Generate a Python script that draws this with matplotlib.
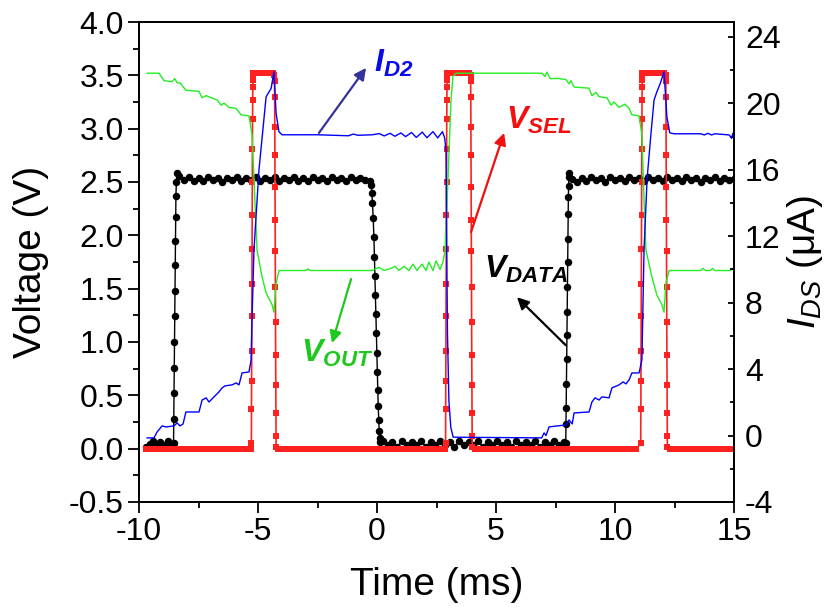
"""Transient waveforms of the pixel circuit: V_SEL, V_DATA, V_OUT and I_D2."""

import matplotlib

matplotlib.use("Agg")

import matplotlib.pyplot as plt
from matplotlib.ticker import MultipleLocator

plt.rcParams["font.family"] = ["Liberation Sans", "DejaVu Sans"]
plt.rcParams["axes.unicode_minus"] = False
plt.rcParams["mathtext.fontset"] = "custom"
plt.rcParams["mathtext.rm"] = "Liberation Sans"
plt.rcParams["mathtext.it"] = "Liberation Sans:italic"
plt.rcParams["mathtext.bf"] = "Liberation Sans:italic:bold"

# ---- V_DATA (black circles), time in ms, voltage in V ----
vdata_t = [
    -9.7, -9.55, -9.4, -9.25, -9.1, -8.95, -8.8, -8.65,
    -8.55, -8.54, -8.53, -8.52, -8.51, -8.50, -8.49, -8.48, -8.47, -8.46, -8.45, -8.43, -8.41,
    -8.3, -8.1, -7.9, -7.7, -7.5, -7.3, -7.1, -6.9, -6.7, -6.5,
    -6.3, -6.1, -5.9, -5.7, -5.5, -5.3, -5.1, -4.9, -4.7, -4.5,
    -4.3, -4.1, -3.9, -3.7, -3.5, -3.3, -3.1, -2.9, -2.7, -2.5,
    -2.3, -2.1, -1.9, -1.7, -1.5, -1.3, -1.1, -0.9, -0.7, -0.5,
    -0.3, -0.25, -0.22, -0.19, -0.16, -0.13, -0.11, -0.09, -0.07, -0.05,
    -0.03, -0.01, 0.01, 0.03, 0.05, 0.07, 0.09, 0.11, 0.14,
    0.25, 0.45, 0.65, 0.85, 1.05, 1.25, 1.45, 1.65, 1.85, 2.05,
    2.25, 2.45, 2.65, 2.85, 3.05, 3.25, 3.45, 3.65, 3.85, 4.05,
    4.25, 4.45, 4.65, 4.85, 5.05, 5.25, 5.45, 5.65, 5.85, 6.05,
    6.25, 6.45, 6.65, 6.85, 7.05, 7.25, 7.45, 7.65, 7.85,
    7.93, 7.94, 7.95, 7.96, 7.97, 7.98, 7.99, 8.0, 8.01, 8.02, 8.03, 8.04, 8.05, 8.06, 8.08,
    8.2, 8.4, 8.6, 8.8, 9.0, 9.2, 9.4, 9.6, 9.8, 10.0,
    10.2, 10.4, 10.6, 10.8, 11.0, 11.2, 11.4, 11.6, 11.8, 12.0,
    12.2, 12.4, 12.6, 12.8, 13.0, 13.2, 13.4, 13.6, 13.8, 14.0,
    14.2, 14.4, 14.6, 14.8, 15.0,
]
vdata_v = [
    0.02, 0.04, 0.07, 0.03, 0.06, 0.03, 0.07, 0.04,
    0.05, 0.28, 0.52, 0.76, 1.00, 1.24, 1.48, 1.72, 1.95, 2.17, 2.37, 2.50, 2.58,
    2.56, 2.52, 2.55, 2.51, 2.54, 2.51, 2.55, 2.52, 2.54, 2.50,
    2.54, 2.52, 2.55, 2.51, 2.54, 2.52, 2.55, 2.51, 2.54, 2.52,
    2.55, 2.51, 2.54, 2.52, 2.55, 2.51, 2.54, 2.51, 2.55, 2.52,
    2.54, 2.51, 2.55, 2.52, 2.54, 2.51, 2.55, 2.52, 2.54, 2.52,
    2.51, 2.47, 2.40, 2.30, 2.16, 1.98, 1.80, 1.62, 1.44, 1.26,
    1.08, 0.90, 0.72, 0.55, 0.40, 0.27, 0.17, 0.10, 0.06,
    0.07, 0.03, 0.06, 0.02, 0.07, 0.03, 0.06, 0.03, 0.07, 0.02,
    0.06, 0.03, 0.07, 0.03, 0.06, 0.02, 0.07, 0.03, 0.06, 0.03,
    0.07, 0.02, 0.06, 0.03, 0.07, 0.03, 0.06, 0.02, 0.07, 0.03,
    0.06, 0.03, 0.07, 0.02, 0.06, 0.03, 0.07, 0.03, 0.06,
    0.05, 0.23, 0.38, 0.61, 0.84, 1.07, 1.28, 1.52, 1.75, 1.97, 2.20, 2.36, 2.46, 2.55, 2.58,
    2.53, 2.50, 2.54, 2.51, 2.55, 2.52, 2.54, 2.50, 2.55, 2.52,
    2.54, 2.51, 2.55, 2.52, 2.54, 2.51, 2.55, 2.52, 2.54, 2.51,
    2.55, 2.52, 2.54, 2.51, 2.55, 2.52, 2.54, 2.50, 2.54, 2.52,
    2.55, 2.51, 2.54, 2.52, 2.53,
]

# ---- V_SEL (red squares) ----
sel_low = 0.0
sel_high = 3.52
sel_rise = [0.05, 0.37, 0.63, 0.92, 1.24, 1.54, 1.87, 2.19, 2.50, 2.81, 3.09, 3.27, 3.39, 3.46, 3.50, 3.52]
sel_fall = [3.50, 3.45, 3.30, 3.02, 2.75, 2.45, 2.14, 1.85, 1.52, 1.19, 0.88, 0.60, 0.33, 0.12, 0.02]

sel_low_a_t = [-9.7, -9.5, -9.3, -9.1, -8.9, -8.7, -8.5, -8.3, -8.1, -7.9, -7.7, -7.5,
               -7.3, -7.1, -6.9, -6.7, -6.5, -6.3, -6.1, -5.9, -5.7, -5.5, -5.3]
sel_rise_a_t = [-5.28, -5.275, -5.27, -5.265, -5.26, -5.255, -5.25, -5.245,
                -5.24, -5.235, -5.23, -5.225, -5.22, -5.215, -5.21, -5.205]
sel_high_a_t = [-5.1, -4.9, -4.7, -4.5, -4.35]
sel_fall_a_t = [-4.31, -4.305, -4.3, -4.295, -4.29, -4.285, -4.28, -4.275,
                -4.27, -4.265, -4.26, -4.255, -4.25, -4.245, -4.24]
sel_low_b_t = [-4.15, -3.95, -3.75, -3.55, -3.35, -3.15, -2.95, -2.75, -2.55, -2.35, -2.15, -1.95,
               -1.75, -1.55, -1.35, -1.15, -0.95, -0.75, -0.55, -0.35, -0.15, 0.05, 0.25, 0.45,
               0.65, 0.85, 1.05, 1.25, 1.45, 1.65, 1.85, 2.05, 2.25, 2.45, 2.65, 2.85]
sel_rise_b_t = [2.88, 2.885, 2.89, 2.895, 2.9, 2.905, 2.91, 2.915,
                2.92, 2.925, 2.93, 2.935, 2.94, 2.945, 2.95, 2.955]
sel_high_b_t = [3.05, 3.25, 3.45, 3.65, 3.85]
sel_fall_b_t = [3.93, 3.935, 3.94, 3.945, 3.95, 3.955, 3.96, 3.965,
                3.97, 3.975, 3.98, 3.985, 3.99, 3.995, 4.0]
sel_low_c_t = [4.1, 4.3, 4.5, 4.7, 4.9, 5.1, 5.3, 5.5, 5.7, 5.9, 6.1, 6.3, 6.5, 6.7, 6.9, 7.1, 7.3, 7.5,
               7.7, 7.9, 8.1, 8.3, 8.5, 8.7, 8.9, 9.1, 9.3, 9.5, 9.7, 9.9, 10.1, 10.3, 10.5, 10.7, 10.9]
sel_rise_c_t = [11.08, 11.085, 11.09, 11.095, 11.1, 11.105, 11.11, 11.115,
                11.12, 11.125, 11.13, 11.135, 11.14, 11.145, 11.15, 11.155]
sel_high_c_t = [11.25, 11.45, 11.65, 11.85, 12.05]
sel_fall_c_t = [12.13, 12.135, 12.14, 12.145, 12.15, 12.155, 12.16, 12.165,
                12.17, 12.175, 12.18, 12.185, 12.19, 12.195, 12.2]
sel_low_d_t = [12.3, 12.5, 12.7, 12.9, 13.1, 13.3, 13.5, 13.7, 13.9, 14.1, 14.3, 14.5, 14.7, 14.9, 15.0]

# ---- V_OUT (green line) ----
vout_t = [
    -9.66, -9.16, -8.95, -8.61, -8.50, -8.40, -8.28, -8.03, -7.48, -7.35, -7.18, -6.97, -6.72,
    -6.55, -6.43, -6.22, -5.92, -5.71, -5.38, -5.25, -5.13, -5.04, -4.83, -4.66, -4.41, -4.33,
    -4.24, -4.12, -3.0, -2.9, -2.8, -0.21, 0.08, 0.29, 0.59, 0.76, 0.92, 1.13, 1.34, 1.51, 1.68,
    1.89, 2.06, 2.18, 2.35, 2.48, 2.65, 2.77, 2.86, 2.98, 3.11, 3.19, 3.32, 6.93, 7.06, 7.14,
    7.27, 7.65, 7.94, 8.07, 8.15, 8.28, 8.91, 9.03, 9.20, 9.33, 9.66, 9.83, 9.96, 10.17, 10.42,
    10.59, 10.71, 11.01, 11.13, 11.22, 11.30, 11.55, 11.76, 11.97, 12.06, 12.14, 12.27, 13.6,
    13.7, 13.8, 14.0, 14.1, 14.2, 14.85, 14.92, 15.0,
]
vout_v = [
    3.52, 3.52, 3.45, 3.44, 3.47, 3.43, 3.43, 3.36, 3.35, 3.29, 3.31, 3.29, 3.27,
    3.22, 3.24, 3.20, 3.19, 3.13, 3.12, 2.94, 2.33, 1.86, 1.61, 1.46, 1.35, 1.28,
    1.55, 1.67, 1.67, 1.685, 1.67, 1.67, 1.70, 1.67, 1.69, 1.71, 1.67, 1.71, 1.67, 1.73, 1.67,
    1.73, 1.67, 1.75, 1.67, 1.76, 1.68, 1.75, 1.86, 2.52, 3.27, 3.49, 3.52, 3.52, 3.49, 3.53,
    3.47, 3.47, 3.46, 3.42, 3.45, 3.39, 3.38, 3.31, 3.34, 3.30, 3.29, 3.22, 3.25, 3.20, 3.23,
    3.19, 3.13, 3.12, 2.94, 2.33, 1.86, 1.61, 1.44, 1.35, 1.28, 1.55, 1.67, 1.67,
    1.69, 1.67, 1.67, 1.69, 1.67, 1.67, 1.69, 1.67,
]

# ---- I_D2 (blue line, right axis, uA) ----
id2_t = [
    -9.66, -9.37, -9.24, -9.03, -8.87, -8.53, -8.40, -8.28, -8.15, -8.03, -7.48, -7.35, -7.18,
    -7.06, -6.89, -6.64, -6.51, -6.39, -6.09, -5.92, -5.80, -5.67, -5.38, -5.29, -5.25, -5.17,
    -4.96, -4.66, -4.45, -4.33, -4.24, -4.12, -3.99, -2.5, -1.2, -1.0, -0.8, -0.2, 0.1, 0.3,
    0.55, 0.75, 1.0, 1.2, 1.45, 1.65, 1.9, 2.1, 2.35, 2.55, 2.75, 2.84, 2.90, 2.93, 2.96, 3.02,
    3.10, 3.20, 6.92, 7.02, 7.10, 7.23, 7.94, 8.07, 8.20, 8.28, 8.91, 9.03, 9.16, 9.33, 9.45,
    9.75, 9.87, 10.17, 10.34, 10.46, 10.59, 10.71, 11.01, 11.13, 11.22, 11.35, 11.50, 11.64,
    11.76, 11.90, 12.06, 12.18, 12.30, 12.48, 13.6, 13.75, 13.9, 14.05, 14.2, 14.8, 14.9,
    14.95, 15.0,
]
id2_i = [
    -0.14, -0.14, 0.22, 0.58, 0.52, 0.58, 0.76, 0.58, 0.70, 1.42, 1.42, 2.14, 2.27,
    2.02, 2.27, 2.63, 2.87, 2.99, 3.05, 3.17, 3.05, 3.77, 3.83, 4.55, 7.1, 11.2,
    16.0, 20.4, 20.9, 21.9, 19.4, 18.29, 18.11, 18.11, 18.05, 18.15, 18.08, 18.11, 18.18, 18.04,
    18.2, 18.02, 18.22, 18.0, 18.25, 17.95, 18.27, 17.93, 18.3, 17.92, 18.3, 17.93, 17.2, 11.2,
    6.2, 2.1, 0.5, -0.1, -0.14, 0.16, 0.0, 0.52, 0.64, 0.94, 0.70, 1.36, 1.42, 2.02, 2.27,
    2.14, 2.33, 2.27, 2.87, 3.05, 3.23, 3.11, 3.35, 3.77, 3.77, 4.55, 11.2, 15.5, 18.0, 20.2,
    20.7, 21.2, 21.9, 19.2, 18.23, 18.17, 18.17, 18.1, 18.2, 18.1, 18.17, 18.1, 17.9,
    18.2, 18.17,
]


def _sel_series():
    segments = [
        (sel_low_a_t, None), (sel_rise_a_t, sel_rise), (sel_high_a_t, None), (sel_fall_a_t, sel_fall),
        (sel_low_b_t, None), (sel_rise_b_t, sel_rise), (sel_high_b_t, None), (sel_fall_b_t, sel_fall),
        (sel_low_c_t, None), (sel_rise_c_t, sel_rise), (sel_high_c_t, None), (sel_fall_c_t, sel_fall),
        (sel_low_d_t, None),
    ]
    levels = [sel_low, None, sel_high, None] * 3 + [sel_low]
    t_all, v_all = [], []
    for (t_seg, v_seg), level in zip(segments, levels):
        t_all += t_seg
        v_all += v_seg if v_seg is not None else [level] * len(t_seg)
    return t_all, v_all


def main():
    fig = plt.figure(figsize=(8.36, 6.13), dpi=100)
    ax = fig.add_axes([0.1663, 0.1811, 0.7117, 0.7830])
    ax2 = ax.twinx()

    sel_t, sel_v = _sel_series()
    ax.plot(vdata_t, vdata_v, color="black", lw=1.0, marker="o", ms=5.4, mew=0, zorder=2)
    ax.plot(sel_t, sel_v, color="#ff2020", lw=1.2, marker="s", ms=4.0, mew=0, zorder=3)
    ax.plot(vout_t, vout_v, color="#22ee22", lw=1.0, zorder=4)
    ax2.plot(id2_t, id2_i, color="#0000ff", lw=1.0)

    ax.set_xlim(-10, 15)
    ax.set_ylim(-0.5, 4.0)
    ax2.set_ylim(-4, 24.9)

    ax.xaxis.set_major_locator(MultipleLocator(5))
    ax.xaxis.set_minor_locator(MultipleLocator(2.5))
    ax.yaxis.set_major_locator(MultipleLocator(0.5))
    ax.yaxis.set_minor_locator(MultipleLocator(0.25))
    ax2.yaxis.set_major_locator(MultipleLocator(4))
    ax2.yaxis.set_minor_locator(MultipleLocator(2))
    ax.yaxis.set_major_formatter(plt.FormatStrFormatter("%.1f"))

    ax.tick_params(which="both", direction="out", top=False, right=False, labelsize=23, width=1.3)
    ax.tick_params(which="major", length=8, pad=3)
    ax.tick_params(which="minor", length=4)
    ax2.tick_params(which="both", direction="in", labelsize=23, width=1.3)
    ax2.tick_params(which="major", length=4, pad=8)
    ax2.tick_params(which="minor", length=3)
    for spine in list(ax.spines.values()) + list(ax2.spines.values()):
        spine.set_linewidth(1.3)

    ax.set_xlabel("Time (ms)", fontsize=28, labelpad=14)
    ax.set_ylabel("Voltage (V)", fontsize=28, labelpad=14)
    ax2.set_ylabel(r"$I_{DS}$ (μA)", fontsize=28, labelpad=3)

    # annotations, drawn on the top axes in voltage coordinates
    def note(text, color, xy, xytext, arrow_color, text_pos):
        ax2.annotate("", xy=xy, xycoords=ax.transData, xytext=xytext, textcoords=ax.transData,
                     arrowprops=dict(arrowstyle="-|>,head_length=0.7,head_width=0.35",
                                     color=arrow_color, lw=1.6, shrinkA=0, shrinkB=0))
        ax2.text(text_pos[0], text_pos[1], text, color=color, fontsize=23, ha="left",
                 va="baseline", transform=ax.transData)

    note(r"$\mathbf{I}_{\mathbf{D2}}$", "#0a0ae6", (-0.46, 3.57), (-2.44, 2.96), "#333399", (-0.13, 3.53))
    note(r"$\mathbf{V}_{\mathbf{SEL}}$", "#f01010", (5.34, 2.96), (3.95, 2.03), "#f01010", (5.42, 3.00))
    note(r"$\mathbf{V}_{\mathbf{DATA}}$", "black", (5.88, 1.42), (7.93, 0.97), "black", (4.50, 1.60))
    note(r"$\mathbf{V}_{\mathbf{OUT}}$", "#1ec81e", (-1.89, 0.99), (-1.09, 1.59), "#1ec81e", (-3.19, 0.81))

    fig.savefig("out.png", dpi=100)
    plt.close(fig)


if __name__ == "__main__":
    main()
